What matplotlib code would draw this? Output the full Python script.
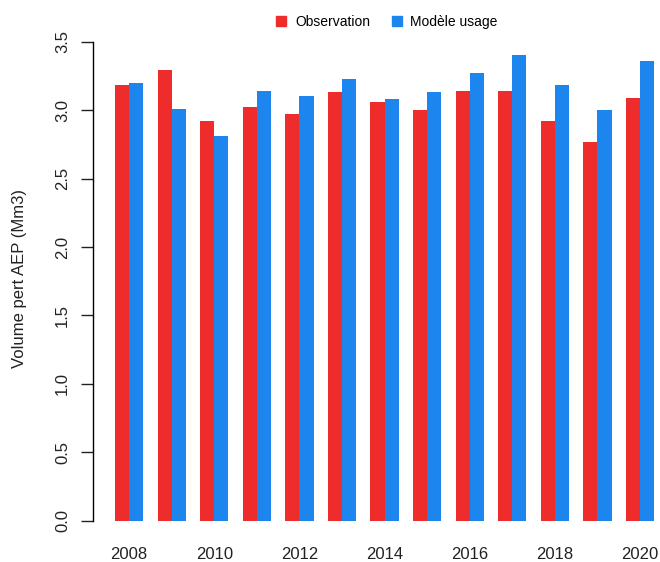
import matplotlib
matplotlib.use("Agg")
import matplotlib.pyplot as plt
from matplotlib.lines import Line2D
import numpy as np

# Data
years = [2008, 2009, 2010, 2011, 2012, 2013, 2014, 2015, 2016, 2017, 2018, 2019, 2020]
observation = [3.18, 3.29, 2.92, 3.02, 2.97, 3.13, 3.06, 3.00, 3.14, 3.14, 2.92, 2.77, 3.09]
modele_usage = [3.20, 3.01, 2.81, 3.14, 3.10, 3.23, 3.08, 3.13, 3.27, 3.40, 3.18, 3.00, 3.36]
series_names = ["Observation", "Modèle usage"]
y_ticks = [0.0, 0.5, 1.0, 1.5, 2.0, 2.5, 3.0, 3.5]

red = "#EE2C2C"
blue = "#1C86EE"

plt.rcParams["font.family"] = ["Liberation Sans", "DejaVu Sans"]

fig = plt.figure(figsize=(6.6, 5.62), dpi=100)
ax = fig.add_axes([93.4 / 660, 0.0393, 1 - 93.4 / 660, 0.9206])

# R barplot layout: groups of two bars, one bar-width gap between groups
idx = np.arange(len(years))
centers = 3 * idx + 2
ax.bar(centers - 0.5, observation, width=1.0, color=red, linewidth=0)
ax.bar(centers + 0.5, modele_usage, width=1.0, color=blue, linewidth=0)

ax.set_xlim(-0.52, -0.52 + (660 - 93.4) / 14.19)
ax.set_ylim(-0.14, 3.64)

# y axis like R
for s in ["top", "right", "bottom"]:
    ax.spines[s].set_visible(False)
ax.spines["left"].set_bounds(0, 3.5)
ax.spines["left"].set_linewidth(1.0)
ax.set_yticks(y_ticks)
ax.set_yticklabels([f"{v:.1f}" for v in y_ticks], rotation=90, va="center")
ax.tick_params(axis="y", length=8.4, width=1.0, pad=8.4, labelsize=12, colors="#222222")

# x labels only every other year
even = [i for i in idx if years[i] % 2 == 0]
ax.set_xticks(centers[even])
ax.set_xticklabels([str(years[i]) for i in even])
ax.tick_params(axis="x", length=0, pad=5, labelsize=12, colors="#222222")

fig.text(20 / 660, 1 - 278 / 562, "Volume pert AEP (Mm3)", rotation=90,
         ha="center", va="center", fontsize=12, color="#222222")

handles = [Line2D([], [], marker="s", linestyle="none", color=red, markersize=7),
           Line2D([], [], marker="s", linestyle="none", color=blue, markersize=7)]
fig.legend(handles, series_names, loc="center", bbox_to_anchor=(0.585, 0.961),
           ncol=2, frameon=False, fontsize=10, handlelength=1.0,
           handletextpad=0.5, columnspacing=1.4)

fig.savefig("out.png", dpi=100)
